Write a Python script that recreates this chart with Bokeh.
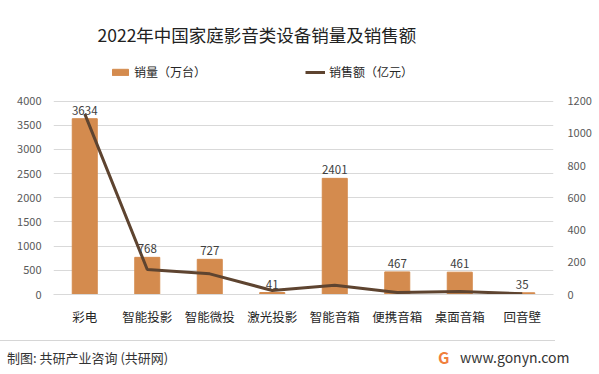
from bokeh.plotting import figure
from bokeh.layouts import column
from bokeh.models import (FactorRange, Range1d, LinearAxis, FixedTicker, Legend,
                          LegendItem, Label, Div)
from bokeh.embed import file_html
from bokeh.resources import INLINE
from bokeh.core.properties import value

categories = ["彩电", "智能投影", "智能微投", "激光投影", "智能音箱", "便携音箱", "桌面音箱", "回音壁"]
sales_volume = [3634, 768, 727, 41, 2401, 467, 461, 35]   # 万台
sales_value = [1120, 155, 128, 25, 58, 12, 18, 5]          # 亿元
left_ticks = [0, 500, 1000, 1500, 2000, 2500, 3000, 3500, 4000]
right_ticks = [0, 200, 400, 600, 800, 1000, 1200]

FONT = "Noto Sans CJK SC"
BAR_COLOR = "#D48B4E"
LINE_COLOR = "#5E4430"

# frame spans from the top of the canvas down to the zero line; the axis
# maxima sit PLOT_H pixels above zero, the headroom holds title and legend
FRAME_H = 294.0
PLOT_H = 193.5
left_end = left_ticks[-1] * FRAME_H / PLOT_H
right_end = right_ticks[-1] * FRAME_H / PLOT_H

p = figure(width=599, height=330, title=None,
           x_range=FactorRange(*categories, range_padding=0),
           y_range=Range1d(0, left_end),
           output_backend="svg", toolbar_location=None,
           min_border_left=53, min_border_right=46,
           min_border_top=0, min_border_bottom=36)
p.outline_line_color = None
p.extra_y_ranges = {"r": Range1d(0, right_end)}

bars = p.vbar(x=categories, top=sales_volume, width=0.4, color=BAR_COLOR)
line = p.line(x=categories, y=sales_value, y_range_name="r",
              line_width=3, line_color=LINE_COLOR)
p.text(x=categories, y=sales_volume, text=[str(v) for v in sales_volume],
       text_align="center", text_baseline="bottom", y_offset=-4,
       text_font=value(FONT), text_font_size="11.5px", text_color="#404040")

# axes
p.yaxis.ticker = FixedTicker(ticks=left_ticks)
ry = LinearAxis(y_range_name="r", ticker=FixedTicker(ticks=right_ticks))
p.add_layout(ry, "right")
for ax in [p.yaxis[0], ry]:
    ax.axis_line_color = None
    ax.major_tick_line_color = None
    ax.minor_tick_line_color = None
    ax.major_label_text_font = FONT
    ax.major_label_text_font_size = "11px"
    ax.major_label_text_color = "#595959"
p.yaxis[0].major_label_standoff = 6
ry.major_label_standoff = 8

xa = p.xaxis[0]
xa.axis_line_color = "#d9d9d9"
xa.major_tick_line_color = None
xa.minor_tick_line_color = None
xa.major_label_text_font = FONT
xa.major_label_text_font_size = "12.5px"
xa.major_label_text_color = "#262626"
xa.major_label_standoff = 6

p.xgrid.grid_line_color = None
p.ygrid.grid_line_color = "#d9d9d9"
p.ygrid.ticker = FixedTicker(ticks=left_ticks)

legend = Legend(items=[LegendItem(label="销量（万台）", renderers=[bars]),
                       LegendItem(label="销售额（亿元）", renderers=[line])],
                orientation="horizontal", location=(57, 214), spacing=99,
                glyph_width=20, glyph_height=8, label_height=8, label_standoff=4,
                label_text_font=FONT, label_text_font_size="12px",
                label_text_color="#262626",
                padding=0, margin=0, border_line_color=None,
                background_fill_alpha=0)
p.add_layout(legend, "center")

p.add_layout(Label(x=44, y=260, x_units="screen", y_units="screen",
                   text="2022年中国家庭影音类设备销量及销售额",
                   text_font=FONT, text_font_size="17.5px", text_color="#222222",
                   text_baseline="middle", text_align="left"))

footer_html = (
    '<div style="position:relative;width:599px;height:44px;'
    'font-family:\'Noto Sans CJK SC\',sans-serif;">'
    '<div style="position:absolute;left:0px;top:10px;width:555px;height:33px;'
    'border-top:1px solid #d6d6d6;box-sizing:border-box;">'
    '<span style="position:absolute;left:7px;top:9px;font-size:13px;'
    'line-height:16px;color:#333333;white-space:nowrap;">'
    '制图: 共研产业咨询 (共研网)</span>'
    '<span style="position:absolute;left:438px;top:7px;font-size:16px;'
    'line-height:18px;font-weight:bold;color:#F0803C;">G</span>'
    '<span style="position:absolute;left:460px;top:8px;font-size:14px;'
    'line-height:16px;color:#333333;white-space:nowrap;">www.gonyn.com</span>'
    '</div></div>'
)
footer = Div(text=footer_html, width=599, height=44, margin=0)

layout = column(p, footer, spacing=0)
open("out.html", "w").write(file_html(layout, INLINE))
